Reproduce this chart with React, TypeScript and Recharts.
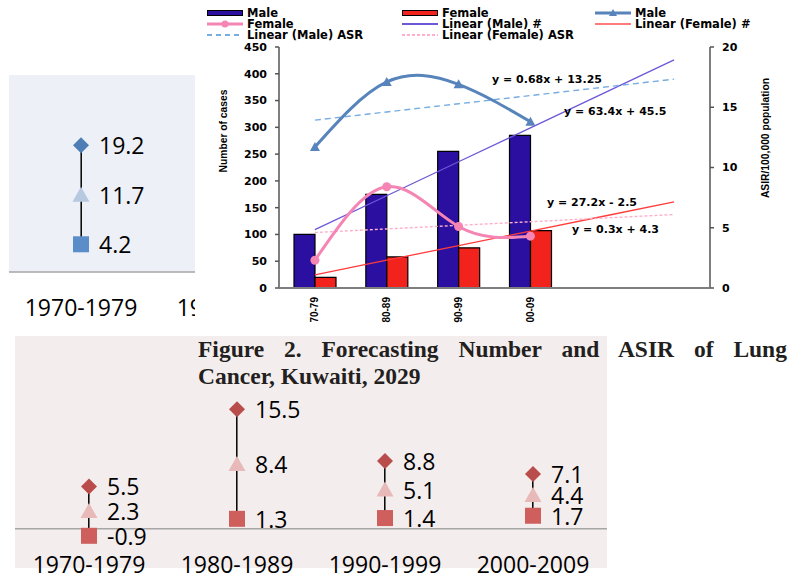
import React from 'react';
import { ComposedChart, Bar, Line, XAxis, YAxis, Legend, LabelList, ReferenceLine } from 'recharts';

// main chart: number of cases (bars, left axis) and ASIR (lines, right axis)
const periods = ['70-79', '80-89', '90-99', '00-09', ' ', '  '];
const maleCases = [100, 175, 255, 285, null, null];
const femaleCases = [20, 58, 75, 107, null, null];
const maleAsr = [11.7, 17.1, 16.9, 13.8, null, null];
const femaleAsr = [2.3, 8.4, 5.1, 4.3, null, null];
const maleCasesFit = [108.9, 172.3, 235.7, 299.1, 362.5, 425.9];
const femaleCasesFit = [24.7, 51.9, 79.1, 106.3, 133.5, 160.7];
const maleAsrFit = [13.93, 14.61, 15.29, 15.97, 16.65, 17.33];
const femaleAsrFit = [4.6, 4.9, 5.2, 5.5, 5.8, 6.1];
const caseTicks = [0, 50, 100, 150, 200, 250, 300, 350, 400, 450];
const asrTicks = [0, 5, 10, 15, 20];
const fitLabels = ['y = 0.68x + 13.25', 'y = 63.4x + 45.5', 'y = 27.2x - 2.5', 'y = 0.3x + 4.3'];

// side panels: forecast ranges per decade
const decades = ['1970-1979', '1980-1989', '1990-1999', '2000-2009'];
const maleHigh = [19.2, null, null, null];
const maleMid = [11.7, null, null, null];
const maleLow = [4.2, null, null, null];
const femaleHigh = [5.5, 15.5, 8.8, 7.1];
const femaleMid = [2.3, 8.4, 5.1, 4.4];
const femaleLow = [-0.9, 1.3, 1.4, 1.7];

const NAVY = '#2b0fa0';
const RED = '#f2221c';
const STEEL = '#5784bb';
const PINK = '#f585b4';
const PURPLE = '#6c57d8';
const FITRED = '#ff3b3b';
const LBLUE = '#76ade2';
const LPINK = '#ffafca';
const AXIS = '#7f7f7f';

const boldTick = { fontFamily: 'DejaVu Sans', fontWeight: 700, fontSize: 11, fill: '#000' };

const mainRows = periods.map((period, i) => ({
  period,
  maleCases: maleCases[i],
  femaleCases: femaleCases[i],
  maleAsr: maleAsr[i],
  femaleAsr: femaleAsr[i],
  maleCasesFit: maleCasesFit[i],
  femaleCasesFit: femaleCasesFit[i],
  maleAsrFit: maleAsrFit[i],
  femaleAsrFit: femaleAsrFit[i],
}));

const buildRanges = (high: any[], mid: any[], low: any[]) =>
  decades.map((decade, i) => ({
    decade,
    high: high[i],
    mid: mid[i],
    low: low[i],
    range: low[i] != null ? [low[i], high[i]] : null,
  }));

const maleRows = buildRanges(maleHigh, maleMid, maleLow);
const femaleRows = buildRanges(femaleHigh, femaleMid, femaleLow);

const fitLabelPos = [
  { left: 297, top: 80 },
  { left: 369, top: 112 },
  { left: 352, top: 203 },
  { left: 377, top: 230 },
];

type LegendItem = { label: string; kind: string; color: string; col: number; row: number; dash?: string };
const legendItems: LegendItem[] = [
  { label: 'Male', kind: 'bar', color: NAVY, col: 0, row: 0 },
  { label: 'Female', kind: 'lineDot', color: PINK, col: 0, row: 1 },
  { label: 'Linear (Male) ASR', kind: 'line', color: LBLUE, col: 0, row: 2, dash: '5 4' },
  { label: 'Female', kind: 'bar', color: RED, col: 1, row: 0 },
  { label: 'Linear (Male) #', kind: 'line', color: PURPLE, col: 1, row: 1 },
  { label: 'Linear (Female) ASR', kind: 'line', color: LPINK, col: 1, row: 2, dash: '3 2' },
  { label: 'Male', kind: 'lineTri', color: STEEL, col: 2, row: 0 },
  { label: 'Linear (Female) #', kind: 'line', color: '#ff7a7a', col: 2, row: 1 },
];
const legendCols = [12, 207, 400];

function Swatch({ kind, color, dash }: LegendItem) {
  return (
    <svg width={36} height={10} style={{ display: 'block' }}>
      {kind === 'bar' && <rect x={0.5} y={2.5} width={35} height={5} fill={color} stroke="#000" strokeWidth={1} />}
      {kind !== 'bar' && (
        <line x1={0} x2={36} y1={5} y2={5} stroke={color} strokeWidth={kind === 'line' ? 2 : 3} strokeDasharray={dash} />
      )}
      {kind === 'lineDot' && <circle cx={18} cy={5} r={3.5} fill={color} />}
      {kind === 'lineTri' && <polygon points="18,1 22,8 14,8" fill={color} />}
    </svg>
  );
}

const LegendContent = () => (
  <div style={{ position: 'relative', width: 593, height: 44 }}>
    {legendItems.map((it, i) => (
      <div
        key={i}
        style={{
          position: 'absolute',
          left: legendCols[it.col],
          top: 7 + it.row * 11,
          height: 12,
          display: 'flex',
          alignItems: 'center',
          gap: 4,
          whiteSpace: 'nowrap',
        }}
      >
        <Swatch {...it} />
        <span style={{ fontFamily: 'DejaVu Sans', fontWeight: 700, fontSize: 11.5, lineHeight: '12px', color: '#000' }}>
          {it.label}
        </span>
      </div>
    ))}
  </div>
);

const PeriodTick = (p: any) => (
  <text
    x={p.x}
    y={p.y + 9}
    transform={`rotate(-90 ${p.x} ${p.y + 9})`}
    textAnchor="end"
    dominantBaseline="central"
    fontFamily="Liberation Sans"
    fontWeight={700}
    fontSize={10}
    fill="#000"
  >
    {p.payload.value}
  </text>
);

const TriangleDot = (p: any) => {
  if (p.cx == null || p.cy == null) return <g key={p.index} />;
  const { cx, cy } = p;
  return <polygon key={p.index} points={`${cx},${cy - 5} ${cx + 5},${cy + 4} ${cx - 5},${cy + 4}`} fill={STEEL} />;
};

const CircleDot = (p: any) => {
  if (p.cx == null || p.cy == null) return <g key={p.index} />;
  return <circle key={p.index} cx={p.cx} cy={p.cy} r={4.5} fill={PINK} />;
};

const axisLabel = (text: string, x: number, y: number) => () => (
  <text
    x={x}
    y={y}
    transform={`rotate(-90 ${x} ${y})`}
    textAnchor="middle"
    dominantBaseline="central"
    fontFamily="Liberation Sans"
    fontWeight={700}
    fontSize={10.3}
    fill="#000"
  >
    {text}
  </text>
);

function MainChart() {
  return (
    <div style={{ position: 'absolute', left: 195, top: 0, width: 593, height: 332, background: '#fff' }}>
      <ComposedChart width={593} height={332} data={mainRows} margin={{ top: 47, right: 0, bottom: 0, left: 0 }} barGap={0}>
        <XAxis
          xAxisId="edge"
          type="number"
          domain={[0, 6]}
          ticks={[0, 1, 2, 3, 4, 5, 6]}
          allowDataOverflow
          height={0}
          axisLine={false}
          tickSize={4}
          tickLine={{ stroke: '#555', strokeWidth: 1.5 }}
          tick={() => <g />}
        />
        <XAxis
          xAxisId="cat"
          dataKey="period"
          height={44}
          interval={0}
          axisLine={{ stroke: AXIS, strokeWidth: 2 }}
          tickLine={false}
          tickSize={0}
          tickMargin={0}
          tick={PeriodTick}
        />
        <YAxis
          yAxisId="cases"
          width={84}
          domain={[0, 450]}
          ticks={caseTicks}
          interval={0}
          axisLine={{ stroke: AXIS, strokeWidth: 2 }}
          tickLine={{ stroke: '#555', strokeWidth: 1.5 }}
          tickSize={4}
          tickMargin={8}
          tick={boldTick}
          label={axisLabel('Number of cases', 28, 131)}
        />
        <YAxis
          yAxisId="asr"
          orientation="right"
          width={78}
          domain={[0, 20]}
          ticks={asrTicks}
          interval={0}
          axisLine={{ stroke: AXIS, strokeWidth: 2 }}
          tickLine={{ stroke: '#555', strokeWidth: 1.5 }}
          tickSize={4}
          tickMargin={8}
          tick={boldTick}
          label={axisLabel('ASIR/100,000 population', 570, 138)}
        />
        <Legend
          layout="vertical"
          align="center"
          verticalAlign="middle"
          wrapperStyle={{ top: 0, left: 0, width: 593, height: 44 }}
          content={LegendContent}
        />
        <Bar xAxisId="cat" yAxisId="cases" dataKey="maleCases" name="Male" barSize={21} fill={NAVY} stroke="#000" strokeWidth={1.2} isAnimationActive={false} />
        <Bar xAxisId="cat" yAxisId="cases" dataKey="femaleCases" name="Female" barSize={21} fill={RED} stroke="#000" strokeWidth={1.2} isAnimationActive={false} />
        <Line xAxisId="cat" yAxisId="cases" type="linear" dataKey="maleCasesFit" stroke={PURPLE} strokeWidth={1.3} dot={false} activeDot={false} isAnimationActive={false} />
        <Line xAxisId="cat" yAxisId="cases" type="linear" dataKey="femaleCasesFit" stroke={FITRED} strokeWidth={1.3} dot={false} activeDot={false} isAnimationActive={false} />
        <Line xAxisId="cat" yAxisId="asr" type="linear" dataKey="maleAsrFit" stroke={LBLUE} strokeWidth={1.4} strokeDasharray="6 4" dot={false} activeDot={false} isAnimationActive={false} />
        <Line xAxisId="cat" yAxisId="asr" type="linear" dataKey="femaleAsrFit" stroke={LPINK} strokeWidth={1.4} strokeDasharray="3 2" dot={false} activeDot={false} isAnimationActive={false} />
        <Line xAxisId="cat" yAxisId="asr" type="natural" dataKey="maleAsr" stroke={STEEL} strokeWidth={3} dot={TriangleDot} activeDot={false} isAnimationActive={false} />
        <Line xAxisId="cat" yAxisId="asr" type="natural" dataKey="femaleAsr" stroke={PINK} strokeWidth={3} dot={CircleDot} activeDot={false} isAnimationActive={false} />
      </ComposedChart>
      {fitLabels.map((t, i) => (
        <div
          key={t}
          style={{
            position: 'absolute',
            left: fitLabelPos[i].left,
            top: fitLabelPos[i].top - 7,
            height: 14,
            lineHeight: '14px',
            whiteSpace: 'nowrap',
            fontFamily: 'DejaVu Sans',
            fontWeight: 700,
            fontSize: 11,
            color: '#000',
          }}
        >
          {t}
        </div>
      ))}
    </div>
  );
}

type PanelColors = { high: string; mid: string; low: string };

const StemShape = (p: any) => {
  if (p.height == null || !p.width || p.y == null) return <g />;
  const cx = p.x + p.width / 2;
  return <line x1={cx} x2={cx} y1={p.y} y2={p.y + p.height} stroke="#000" strokeWidth={1.5} />;
};

const makeMarker = (kind: string, fill: string) => (p: any) => {
  if (p.cx == null || p.cy == null || p.value == null) return <g key={p.index} />;
  const { cx, cy } = p;
  if (kind === 'diamond')
    return <polygon key={p.index} points={`${cx},${cy - 8} ${cx + 8},${cy} ${cx},${cy + 8} ${cx - 8},${cy}`} fill={fill} />;
  if (kind === 'triangle')
    return <polygon key={p.index} points={`${cx},${cy - 8} ${cx + 8.5},${cy + 7} ${cx - 8.5},${cy + 7}`} fill={fill} />;
  return <rect key={p.index} x={cx - 8} y={cy - 8} width={16} height={16} fill={fill} />;
};

const sideLabel = (p: any) => {
  if (p.value == null) return null;
  const x = p.x ?? p.viewBox?.x;
  const y = p.y ?? p.viewBox?.y;
  if (x == null || y == null) return null;
  return (
    <text x={x + 18} y={y} dominantBaseline="central" fontFamily="Open Sans" fontSize={23} fill="#000">
      {p.value}
    </text>
  );
};

function RangePanel({
  rows,
  width,
  height,
  plotHeight,
  domain,
  colors,
  zeroLine,
  labelDy,
}: {
  rows: any[];
  width: number;
  height: number;
  plotHeight: number;
  domain: [number, number];
  colors: PanelColors;
  zeroLine: boolean;
  labelDy: number;
}) {
  const DecadeTick = (p: any) => (
    <text x={p.x} y={p.y + labelDy} textAnchor="middle" dominantBaseline="central" fontFamily="Open Sans" fontSize={23} fill="#000">
      {p.payload.value}
    </text>
  );
  return (
    <ComposedChart width={width} height={height} data={rows} margin={{ top: 0, right: 0, bottom: 0, left: 0 }}>
      <XAxis
        dataKey="decade"
        height={height - plotHeight}
        interval={0}
        axisLine={zeroLine ? false : { stroke: '#a6a6a6', strokeWidth: 1.5 }}
        tickLine={false}
        tickSize={0}
        tickMargin={0}
        tick={DecadeTick}
      />
      <YAxis hide domain={domain} allowDataOverflow />
      {zeroLine && <ReferenceLine y={0} stroke="#a6a6a6" strokeWidth={1.5} />}
      <Bar dataKey="range" shape={StemShape} isAnimationActive={false} />
      <Line dataKey="low" stroke="none" dot={makeMarker('square', colors.low)} activeDot={false} isAnimationActive={false}>
        <LabelList dataKey="low" content={sideLabel} />
      </Line>
      <Line dataKey="mid" stroke="none" dot={makeMarker('triangle', colors.mid)} activeDot={false} isAnimationActive={false}>
        <LabelList dataKey="mid" content={sideLabel} />
      </Line>
      <Line dataKey="high" stroke="none" dot={makeMarker('diamond', colors.high)} activeDot={false} isAnimationActive={false}>
        <LabelList dataKey="high" content={sideLabel} />
      </Line>
    </ComposedChart>
  );
}

const titleStyle: React.CSSProperties = {
  position: 'absolute',
  left: 198,
  whiteSpace: 'nowrap',
  fontFamily: 'Liberation Serif',
  fontWeight: 700,
  fontSize: 23.5,
  lineHeight: '27px',
  color: '#231f20',
};

export default function App() {
  return (
    <div style={{ position: 'fixed', left: 0, top: 0, width: 788, height: 574, overflow: 'hidden', background: '#fff' }}>
      {/* male forecast panel, partly hidden behind the main chart */}
      <div style={{ position: 'absolute', left: 9, top: 75, width: 186, height: 197, background: '#edf0f7' }} />
      <div style={{ position: 'absolute', left: 9, top: 74, width: 186, height: 250, overflow: 'hidden' }}>
        <div style={{ position: 'absolute', left: -4, top: 0 }}>
          <RangePanel
            rows={maleRows}
            width={608}
            height={250}
            plotHeight={198}
            domain={[0, 30]}
            colors={{ high: '#4f7eb6', mid: '#b7c8e1', low: '#5b8ec8' }}
            zeroLine={false}
            labelDy={34.5}
          />
        </div>
      </div>

      <MainChart />

      {/* female forecast panel */}
      <div style={{ position: 'absolute', left: 15, top: 336, width: 592, height: 232, background: '#f4eded' }} />
      <div style={{ position: 'absolute', left: 15, top: 336 }}>
        <RangePanel
          rows={femaleRows}
          width={592}
          height={238}
          plotHeight={216}
          domain={[-3, 25]}
          colors={{ high: '#b84d4b', mid: '#e8b9b9', low: '#cf5f5d' }}
          zeroLine
          labelDy={11.5}
        />
      </div>
      <div style={{ ...titleStyle, top: 336, wordSpacing: 14 }}>Figure 2. Forecasting Number and ASIR of Lung</div>
      <div style={{ ...titleStyle, top: 363 }}>Cancer, Kuwaiti, 2029</div>
    </div>
  );
}
